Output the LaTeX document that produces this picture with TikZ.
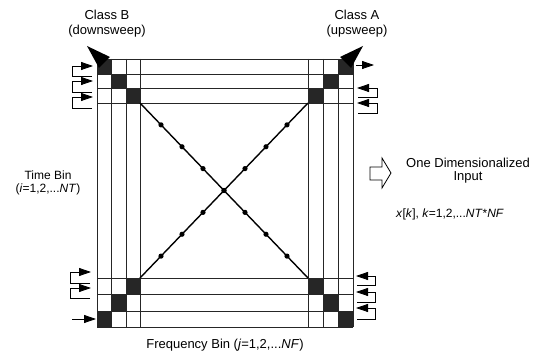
\documentclass[tikz,border=0pt]{standalone}
\usepackage{fontspec}
\setmainfont{Liberation Sans}
\usetikzlibrary{arrows.meta,calc}
\begin{document}
\begin{tikzpicture}[x=1pt,y=-1pt,
  gridline/.style={line width=0.9pt, black!85},
  cellfill/.style={fill=black!85},
  sweep/.style={line width=1.4pt},
  brack/.style={line width=0.8pt, -{Triangle[length=12pt,width=8pt]}},
  lbl/.style={font=\fontsize{13}{15}\selectfont, inner sep=0pt, align=center},
  smalllbl/.style={font=\fontsize{12}{14}\selectfont, inner sep=0pt, align=center},
]
\useasboundingbox (0,0) rectangle (539,358);
\fill[white] (0,0) rectangle (539,358);

% dark cells
\foreach \a/\b/\c/\d in {97/59/111.5/74, 111.5/74/126/88.5, 126/88.5/140/103,
  338/59/353/74, 323/74/338/88.5, 308/88.5/323/103,
  97/311/111.5/327, 111.5/294/126/311, 126/278/140/294,
  338/311/353/327, 323/294/338/311, 308/278/323/294}
  \fill[cellfill] (\a,\b) rectangle (\c,\d);

% grid lines
\foreach \x in {97,111.5,126,140,308,323,338,353}
  \draw[gridline] (\x,59) -- (\x,327);
\foreach \y in {59,74,88.5,103,278,294,311,327}
  \draw[gridline] (97,\y) -- (353,\y);

% sweeps
\coordinate (dA) at (140,103);
\coordinate (dB) at (308,278);
\coordinate (uA) at (140,278);
\coordinate (uB) at (308,103);
\draw[sweep] (dA) -- (dB);
\draw[sweep] (uA) -- (uB);
\foreach \t in {0.125,0.25,0.375,0.5,0.625,0.75,0.875}{
  \fill ($(dA)!\t!(dB)$) circle (2.6pt);
  \fill ($(uA)!\t!(uB)$) circle (2.6pt);
}

% corner arrowheads
\fill (87,46) -- (110,57) -- (99,68) -- cycle;
\fill (363,46) -- (340,57) -- (351,68) -- cycle;

% left-top feedback arrows
\foreach \y/\yb in {66/76, 81/92, 97/108}
  \draw[brack] (92,\yb) -- (72,\yb) -- (72,\y) -- (93,\y);
% right-top
\draw[brack] (356,65) -- (374,65);
\foreach \y/\yb in {88/97, 103/113}
  \draw[brack] (358,\yb) -- (377,\yb) -- (377,\y) -- (357,\y);
% left-bottom
\foreach \y/\yb in {272/283, 288/298}
  \draw[brack] (90,\yb) -- (70,\yb) -- (70,\y) -- (91,\y);
\draw[brack] (72,319) -- (96,319);
% right-bottom
\foreach \y/\yb in {276/285, 292/302, 308/319}
  \draw[brack] (357,\yb) -- (375,\yb) -- (375,\y) -- (356,\y);

% hollow arrow
\draw[line width=0.8pt, fill=white] (370,167) -- (382,167) -- (382,158) -- (391,173)
  -- (382,188) -- (382,180) -- (370,180) -- cycle;

% texts
\node[lbl] (clsB) at (107,15) {Class B};
\node[lbl] (dsw) at (107,31) {(downsweep)};
\node[lbl] (clsA) at (357,15) {Class A};
\node[lbl] (usw) at (357,31) {(upsweep)};
\node[smalllbl] (tb) at (48,175) {Time Bin};
\node[smalllbl] (tbi) at (48,189) {(\textit{i}=1,2,...\textit{NT})};
\node[lbl] (fb) at (225,345) {Frequency Bin (\textit{j}=1,2,...\textit{NF})};
\node[lbl] (od) at (468,163) {One Dimensionalized};
\node[lbl] (inp) at (468,177) {Input};
\node[smalllbl] (xk) at (450,214) {\textit{x}[\textit{k}], \textit{k}=1,2,...\textit{NT}*\textit{NF}};
\end{tikzpicture}
\end{document}
